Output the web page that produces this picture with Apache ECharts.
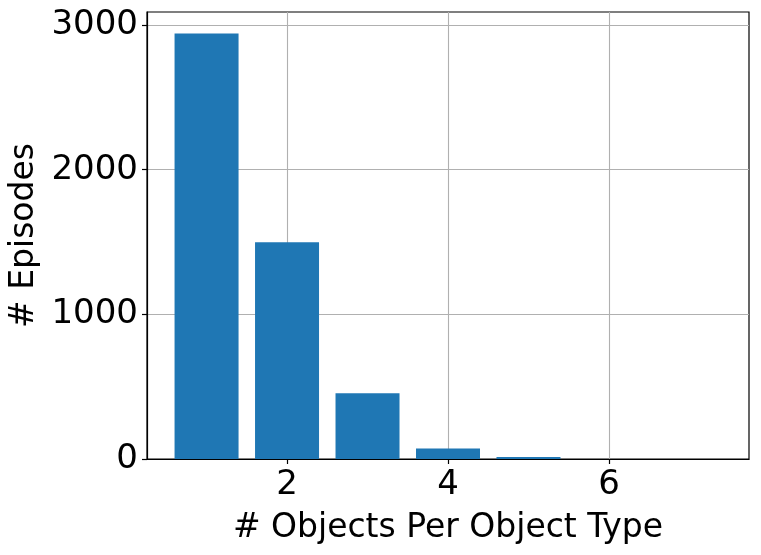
<!DOCTYPE html>
<html>
<head>
<meta charset="utf-8">
<script src="https://cdn.jsdelivr.net/npm/echarts@6/dist/echarts.min.js"></script>
<style>
  html, body { margin: 0; padding: 0; background: #fff; }
</style>
</head>
<body>
<div style="width:761px;height:555px;" id="chart"></div>
<script>
// objects per object type -> episode count
const objectCounts = [1, 2, 3, 4, 5, 6, 7];
const episodes = [2941, 1498, 454, 72, 14, 0, 0];
const xTicks = [2, 4, 6];
const yTicks = [0, 1000, 2000, 3000];

const font = 'DejaVu Sans';

const option = {
    animation: false,
    grid: {
        left: 147,
        right: 12,
        top: 12,
        bottom: 96,
        outerBoundsMode: 'none',
        containLabel: false,
        show: true,
        borderColor: '#000',
        borderWidth: 1.2,
        backgroundColor: '#fff'
    },
    xAxis: {
        type: 'value',
        min: 0.26,
        max: 7.74,
        name: '# Objects Per Object Type',
        nameLocation: 'middle',
        nameGap: 53,
        nameTextStyle: { fontFamily: font, fontSize: 33, color: '#000' },
        axisLine: { show: true, onZero: false, lineStyle: { color: '#000', width: 1.2 } },
        axisTick: { show: true, length: 5, customValues: xTicks, lineStyle: { color: '#000', width: 1.2 } },
        axisLabel: {
            customValues: xTicks, margin: 9, fontFamily: font, fontSize: 34, color: '#000',
            formatter: function (v) { return String(v); }
        },
        splitLine: { show: true, lineStyle: { color: '#b0b0b0', width: 1.1 } }
    },
    yAxis: {
        type: 'value',
        min: 0,
        max: 3090,
        name: '# Episodes',
        nameLocation: 'middle',
        nameGap: 101,
        nameTextStyle: { fontFamily: font, fontSize: 33, color: '#000' },
        axisLine: { show: true, lineStyle: { color: '#000', width: 1.2 } },
        axisTick: { show: true, length: 5, customValues: yTicks, lineStyle: { color: '#000', width: 1.2 } },
        axisLabel: {
            customValues: yTicks, margin: 9, fontFamily: font, fontSize: 34, color: '#000',
            formatter: function (v) { return String(v); }
        },
        splitLine: { show: true, lineStyle: { color: '#b0b0b0', width: 1.1 } }
    },
    series: [{
        type: 'bar',
        barWidth: 64,
        itemStyle: { color: '#1f77b4' },
        data: objectCounts.map(function (c, i) { return [c, episodes[i]]; })
    }]
};

const chart = echarts.init(document.getElementById('chart'));
chart.setOption(option);
window.addEventListener('resize', function () {
    chart.resize();
});
</script>
</body>
</html>
